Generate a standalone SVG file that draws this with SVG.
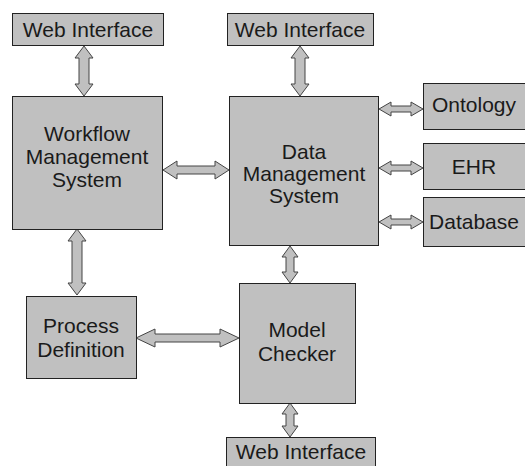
<svg xmlns="http://www.w3.org/2000/svg" width="525" height="466" viewBox="0 0 525 466">
<style>
.box{fill:#c0c0c0;stroke:#222;stroke-width:1}
.arr{fill:#c0c0c0;stroke:#444;stroke-width:1;stroke-linejoin:miter}
text{font-family:"Liberation Sans",Arial,sans-serif;font-size:21px;fill:#1a1a1a;text-anchor:middle}
</style>
<rect width="525" height="466" fill="#fff"/>
<g id="connectors">
<polygon class="arr" points="84,46 93,58 89,58 89,84 93,84 84,96 75,84 79,84 79,58 75,58"/>
<polygon class="arr" points="300,46 309,58 305,58 305,84 309,84 300,96 291,84 295,84 295,58 291,58"/>
<polygon class="arr" points="163,170 177,161 177,166 215,166 215,161 229,170 215,179 215,174 177,174 177,179"/>
<polygon class="arr" points="379,109 391,102 391,106 411,106 411,102 423,109 411,116 411,112 391,112 391,116"/>
<polygon class="arr" points="379,168 391,161 391,165 411,165 411,161 423,168 411,175 411,171 391,171 391,175"/>
<polygon class="arr" points="379,222 391,215 391,219 411,219 411,215 423,222 411,229 411,225 391,225 391,229"/>
<polygon class="arr" points="77,229 86,241 82,241 82,283 86,283 77,295 68,283 72,283 72,241 68,241"/>
<polygon class="arr" points="290,246 298,257 294,257 294,272 298,272 290,283 282,272 286,272 286,257 282,257"/>
<polygon class="arr" points="136,338 155,329 155,334 220,334 220,329 239,338 220,347 220,342 155,342 155,347"/>
<polygon class="arr" points="290,403 298,414 294,414 294,426 298,426 290,437 282,426 286,426 286,414 282,414"/>
</g>
<g id="web1"><rect class="box" x="12.5" y="13.5" width="151" height="32"/><text x="88" y="37">Web Interface</text></g>
<g id="web2"><rect class="box" x="227.5" y="13.5" width="146" height="32"/><text x="300" y="37">Web Interface</text></g>
<g id="wms"><rect class="box" x="12.5" y="96.5" width="150" height="133"/><text x="87" y="141">Workflow</text><text x="87" y="164">Management</text><text x="87" y="187">System</text></g>
<g id="dms"><rect class="box" x="229.5" y="96.5" width="149" height="149"/><text x="304" y="159">Data</text><text x="304" y="181">Management</text><text x="304" y="203">System</text></g>
<g id="ontology"><rect class="box" x="423.5" y="83.5" width="110" height="46"/><text x="474" y="112">Ontology</text></g>
<g id="ehr"><rect class="box" x="423.5" y="143.5" width="110" height="46"/><text x="474" y="174">EHR</text></g>
<g id="database"><rect class="box" x="423.5" y="197.5" width="110" height="49"/><text x="474" y="229">Database</text></g>
<g id="process"><rect class="box" x="26.5" y="296.5" width="110" height="82"/><text x="81" y="333">Process</text><text x="81" y="357">Definition</text></g>
<g id="model"><rect class="box" x="239.5" y="283.5" width="116" height="120"/><text x="297" y="337">Model</text><text x="297" y="361">Checker</text></g>
<g id="web3"><rect class="box" x="226.5" y="437.5" width="149" height="35"/><text x="301" y="459">Web Interface</text></g>
</svg>
